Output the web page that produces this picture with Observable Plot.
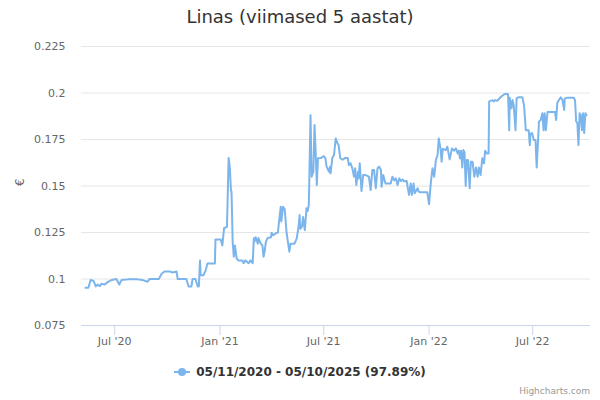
<!DOCTYPE html>
<html><head><meta charset="utf-8">
<script src="https://cdn.jsdelivr.net/npm/d3@7"></script>
<script src="https://cdn.jsdelivr.net/npm/@observablehq/plot@0.6"></script>
<style>
body{margin:0;background:#fff;font-family:"DejaVu Sans",Verdana,sans-serif;}
#wrap{position:relative;width:600px;height:400px;overflow:hidden;background:#fff;}
#title{position:absolute;top:6px;left:0;width:600px;text-align:center;font-size:18px;color:#333;}
#chart{position:absolute;top:36px;left:0;}
#legend{position:absolute;top:365px;left:0;width:600px;display:flex;justify-content:center;align-items:center;font-size:12px;font-weight:bold;color:#333;}
#legend svg{margin-right:6px;}
#credits{position:absolute;right:10px;top:386px;font-size:9px;color:#999;}
</style>
</head><body>
<div id="wrap">
  <div id="title">Linas (viimased 5 aastat)</div>
  <div id="chart"></div>
  <div id="legend"><svg width="16" height="12"><line x1="0" y1="6" x2="16" y2="6" stroke="#7cb5ec" stroke-width="2"/><circle cx="8" cy="6" r="4" fill="#7cb5ec"/></svg><span id="legendText"></span></div>
  <div id="credits">Highcharts.com</div>
</div>
<script>
const seriesName = "05/11/2020 - 05/10/2025 (97.89%)";
const yLabel = "€";
const xTicks = ["2020-07-01","2021-01-01","2021-07-01","2022-01-01","2022-07-01"];
const yTicks = [0.075,0.1,0.125,0.15,0.175,0.2,0.225];
const dates = [
"2020-05-11","2020-05-16","2020-05-20","2020-05-25","2020-05-29","2020-06-01","2020-06-05","2020-06-08","2020-06-13","2020-06-20",
"2020-06-26","2020-07-04","2020-07-09","2020-07-13","2020-07-25","2020-08-10","2020-08-18","2020-08-27","2020-08-31","2020-09-16",
"2020-09-21","2020-09-26","2020-10-06","2020-10-10","2020-10-17","2020-10-19","2020-11-03","2020-11-07","2020-11-12","2020-11-14",
"2020-11-19","2020-11-23","2020-11-25","2020-11-27","2020-11-28","2020-12-03","2020-12-07","2020-12-10","2020-12-23","2020-12-24",
"2021-01-02","2021-01-05","2021-01-08","2021-01-13","2021-01-16","2021-01-18","2021-01-20","2021-01-21","2021-01-23","2021-01-25",
"2021-01-27","2021-01-30","2021-02-02","2021-02-09","2021-02-11","2021-02-14","2021-02-20","2021-02-23","2021-02-27","2021-03-01",
"2021-03-02","2021-03-04","2021-03-08","2021-03-09","2021-03-13","2021-03-16","2021-03-18","2021-03-20","2021-03-22","2021-03-25",
"2021-03-31","2021-04-01","2021-04-04","2021-04-08","2021-04-12","2021-04-14","2021-04-17","2021-04-18","2021-04-21","2021-04-24",
"2021-04-27","2021-04-29","2021-05-02","2021-05-04","2021-05-11","2021-05-15","2021-05-18","2021-05-20","2021-05-21","2021-05-24",
"2021-05-26","2021-05-29","2021-06-01","2021-06-03","2021-06-05","2021-06-06","2021-06-08","2021-06-10","2021-06-13","2021-06-15",
"2021-06-17","2021-06-19","2021-06-21","2021-06-26","2021-07-01","2021-07-04","2021-07-06","2021-07-10","2021-07-12","2021-07-13",
"2021-07-16","2021-07-19","2021-07-22","2021-07-25","2021-07-27","2021-07-30","2021-08-03","2021-08-07","2021-08-12","2021-08-14",
"2021-08-17","2021-08-20","2021-08-23","2021-08-25","2021-08-27","2021-08-30","2021-08-31","2021-09-02","2021-09-05","2021-09-08",
"2021-09-12","2021-09-18","2021-09-21","2021-09-24","2021-09-27","2021-09-30","2021-10-03","2021-10-06","2021-10-09","2021-10-10",
"2021-10-13","2021-10-17","2021-10-26","2021-10-29","2021-11-01","2021-11-04","2021-11-07","2021-11-10","2021-11-13","2021-11-16",
"2021-11-18","2021-11-23","2021-11-25","2021-11-27","2021-11-30","2021-12-02","2021-12-05","2021-12-07","2021-12-12","2021-12-14",
"2021-12-17","2021-12-29","2022-01-01","2022-01-04","2022-01-07","2022-01-10","2022-01-13","2022-01-16","2022-01-18","2022-01-21",
"2022-01-23","2022-01-25","2022-01-30","2022-02-02","2022-02-06","2022-02-10","2022-02-14","2022-02-17","2022-02-20","2022-02-22",
"2022-02-24","2022-02-26","2022-02-28","2022-03-02","2022-03-04","2022-03-06","2022-03-08","2022-03-10","2022-03-13","2022-03-15",
"2022-03-18","2022-03-21","2022-03-24","2022-03-27","2022-03-29","2022-04-01","2022-04-04","2022-04-07","2022-04-09","2022-04-12",
"2022-04-15","2022-04-16","2022-04-22","2022-04-24","2022-04-27","2022-04-30","2022-05-03","2022-05-06","2022-05-09","2022-05-13",
"2022-05-19","2022-05-21","2022-05-22","2022-05-25","2022-05-27","2022-05-29","2022-06-01","2022-06-03","2022-06-06","2022-06-13",
"2022-06-16","2022-06-19","2022-06-24","2022-06-26","2022-06-27","2022-06-30","2022-07-03","2022-07-06","2022-07-08","2022-07-10",
"2022-07-12","2022-07-15","2022-07-18","2022-07-20","2022-07-22","2022-07-24","2022-07-27","2022-08-09","2022-08-11","2022-08-13",
"2022-08-16","2022-08-19","2022-08-22","2022-08-25","2022-08-26","2022-08-31","2022-09-11","2022-09-13","2022-09-15","2022-09-17",
"2022-09-19","2022-09-21","2022-09-23","2022-09-25","2022-09-27","2022-09-29","2022-10-01","2022-10-03"
];
const values = [
0.0953,0.0953,0.0995,0.099,0.096,0.097,0.0962,0.0975,0.097,0.0986,
0.0995,0.1,0.097,0.0995,0.0998,0.0998,0.0995,0.0985,0.1,0.1,
0.1028,0.104,0.104,0.1035,0.104,0.1,0.1,0.096,0.096,0.1,
0.1,0.096,0.096,0.110,0.102,0.102,0.1048,0.1084,0.1084,0.1213,
0.1213,0.118,0.1273,0.128,0.165,0.16,0.1478,0.147,0.12,0.112,
0.118,0.111,0.11,0.11,0.1085,0.11,0.1085,0.11,0.1085,0.1219,
0.12,0.1225,0.119,0.122,0.119,0.118,0.112,0.115,0.12,0.122,
0.1224,0.1249,0.1235,0.1245,0.125,0.1308,0.1389,0.131,0.1388,0.1375,
0.1254,0.121,0.1147,0.119,0.119,0.1219,0.128,0.1344,0.127,0.1282,
0.1333,0.1263,0.138,0.1365,0.1398,0.155,0.188,0.155,0.1577,0.1828,
0.1684,0.1505,0.1649,0.165,0.1661,0.165,0.1604,0.1577,0.1604,0.1568,
0.165,0.1667,0.1756,0.173,0.172,0.1649,0.1641,0.165,0.165,0.1613,
0.1622,0.1595,0.155,0.1595,0.1505,0.1577,0.1541,0.1622,0.1473,0.1559,
0.1559,0.155,0.1478,0.1586,0.1586,0.1488,0.1595,0.1604,0.1586,0.1496,
0.1559,0.1514,0.1514,0.155,0.153,0.1541,0.1505,0.1541,0.1527,0.1535,
0.1525,0.1527,0.1488,0.1452,0.1514,0.1452,0.1514,0.1461,0.1488,0.147,
0.1466,0.1466,0.1402,0.1514,0.1595,0.155,0.164,0.1667,0.1756,0.1702,
0.1631,0.17,0.1693,0.1711,0.1643,0.1702,0.169,0.1702,0.1675,0.169,
0.1649,0.169,0.16,0.1693,0.168,0.15,0.164,0.164,0.1488,0.1631,
0.163,0.155,0.16,0.155,0.16,0.1559,0.1649,0.1622,0.169,0.1675,
0.1675,0.1955,0.1962,0.1955,0.1962,0.1958,0.1968,0.1977,0.1985,0.1995,
0.1995,0.18,0.1975,0.1918,0.1962,0.193,0.18,0.1971,0.1977,0.1977,
0.1932,0.18,0.18,0.172,0.178,0.1785,0.1747,0.1747,0.16,0.172,
0.1846,0.1855,0.1891,0.18,0.1891,0.18,0.1898,0.1898,0.1855,0.1948,
0.1962,0.1977,0.1962,0.1909,0.197,0.1975,0.1975,0.196,0.1846,0.184,
0.172,0.1891,0.188,0.18,0.1891,0.1785,0.1891,0.188
];
const data = dates.map((d, i) => ({date: new Date(d), value: values[i]}));
document.getElementById("legendText").textContent = seriesName;

const chart = Plot.plot({
  width: 600, height: 314,
  marginTop: 10, marginBottom: 25, marginLeft: 81, marginRight: 10,
  style: {fontFamily: "DejaVu Sans, Verdana, sans-serif", fontSize: "11px", color: "#666", background: "white", overflow: "visible"},
  x: {type: "utc", domain: [new Date("2020-05-04"), new Date("2022-10-10")]},
  y: {domain: [0.075, 0.225]},
  marks: [
    Plot.gridY(yTicks, {stroke: "#e6e6e6", strokeOpacity: 1}),
    Plot.ruleY([0.075], {stroke: "#ccd6eb"}),
    Plot.axisY(yTicks, {tickSize: 0, tickPadding: 16, tickFormat: d => String(+d.toFixed(3)), label: null, fill: "#666"}),
    Plot.text([yLabel], {frameAnchor: "left", dx: -61, rotate: -90, fill: "#666", fontSize: 12}),
    Plot.axisX(xTicks.map(d => new Date(d)), {tickSize: 10, tickPadding: 2, stroke: "#ccd6eb", strokeOpacity: 1, fill: "#666", tickFormat: d3.utcFormat("%b '%y"), label: null}),
    Plot.line(data, {x: "date", y: "value", stroke: "#7cb5ec", strokeWidth: 2, strokeLinejoin: "round"})
  ]
});
document.getElementById("chart").appendChild(chart);
</script>
</body></html>
